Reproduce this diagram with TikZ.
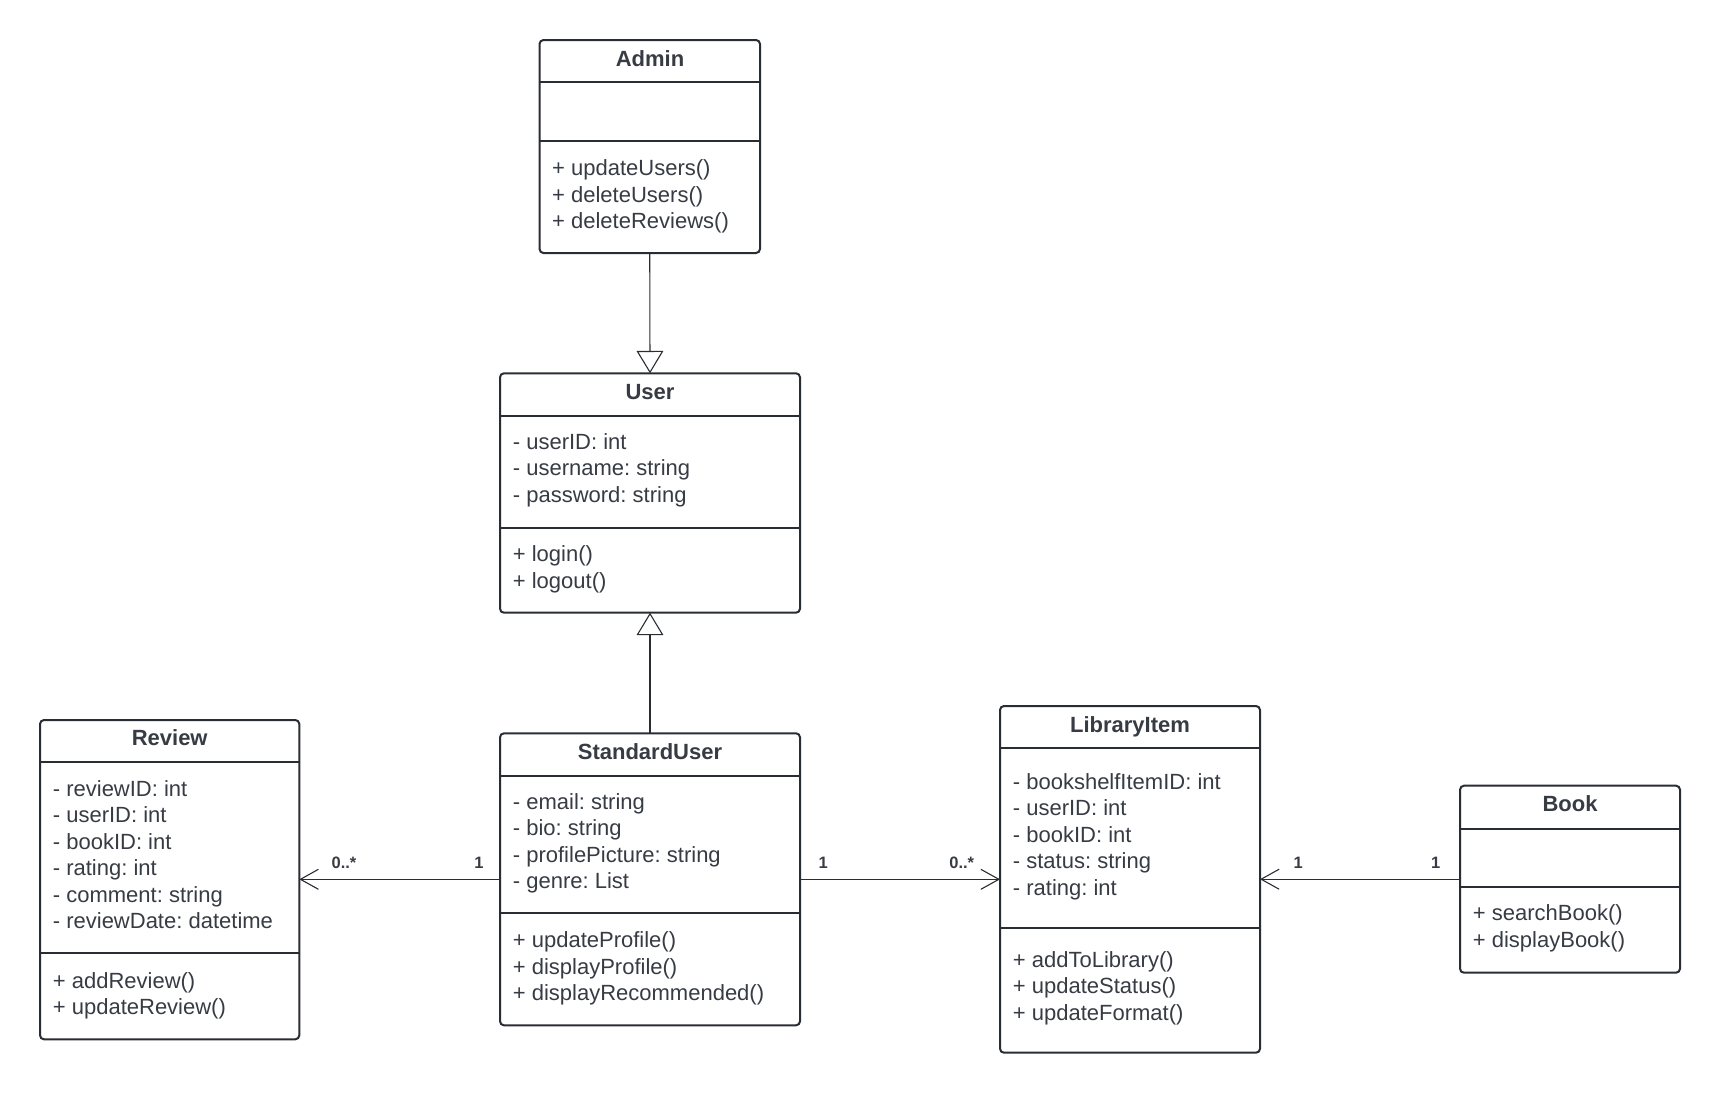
\documentclass[tikz,border=0pt]{standalone}
\usepackage{fontspec}
\setmainfont{Liberation Sans}
\usetikzlibrary{arrows.meta}
\definecolor{boxc}{RGB}{40,44,51}
\definecolor{txtc}{RGB}{55,60,68}
\newcommand\classlines[4]{%
  \foreach \mytext [count=\i] in {#4} {
    \node[txt] (#1\i) at (#2, {#3+(\i-1)*26.5}) {\mytext};
  }%
}
\frenchspacing
\begin{document}
\begin{tikzpicture}[x=1pt,y=-1pt,
  cls/.style={draw=boxc, line width=2pt, rounded corners=4pt, fill=white,
    inner sep=0pt, outer sep=0pt, anchor=north west},
  divl/.style={draw=boxc, line width=2pt},
  txt/.style={anchor=base west, inner sep=0pt, text=txtc,
    font=\fontsize{22}{26.5}\selectfont\frenchspacing},
  ttl/.style={anchor=base, inner sep=0pt, text=txtc,
    font=\fontsize{22}{26.5}\selectfont\bfseries},
  mult/.style={anchor=base, inner sep=0pt, text=txtc,
    font=\fontsize{16.5}{19}\selectfont\bfseries},
  gen/.style={draw=boxc, line width=1.1pt,
    -{Triangle[open, length=22.4pt, width=26.7pt, line width=1.1pt]}},
  assoc/.style={draw=boxc, line width=1.1pt,
    -{Straight Barb[length=18pt, width=20pt, line width=1.1pt]}}]
\useasboundingbox (0,0) rectangle (1720,1093);

% Admin
\node[cls, minimum width=220.5pt, minimum height=213pt] (admin) at (539.5,40) {};
\draw[divl] (539.5,82.3) -- (760,82.3);
\draw[divl] (539.5,141) -- (760,141);
\node[ttl] (admint) at (650,66.5) {Admin};
\classlines{adminm}{552}{175.5}{+ updateUsers(), + deleteUsers(), + deleteReviews()}

% User
\node[cls, minimum width=300pt, minimum height=239.4pt] (user) at (500,373.3) {};
\draw[divl] (500,416) -- (800,416);
\draw[divl] (500,527.7) -- (800,527.7);
\node[ttl] (usert) at (650,399.2) {User};
\classlines{usera}{512.7}{449.2}{- userID: int, - username: string, - password: string}
\classlines{userm}{512.7}{561.5}{+ login(), + logout()}

% StandardUser
\node[cls, minimum width=300pt, minimum height=292pt] (su) at (500,733.3) {};
\draw[divl] (500,776) -- (800,776);
\draw[divl] (500,913.3) -- (800,913.3);
\node[ttl] (sut) at (650,759.2) {StandardUser};
\classlines{sua}{512.7}{809.2}{- email: string, - bio: string, - profilePicture: string, - genre: List}
\classlines{sum}{512.7}{947.5}{+ updateProfile(), + displayProfile(), + displayRecommended()}

% Review
\node[cls, minimum width=259.3pt, minimum height=319.3pt] (review) at (40,720) {};
\draw[divl] (40,761.7) -- (299.3,761.7);
\draw[divl] (40,953.3) -- (299.3,953.3);
\node[ttl] (reviewt) at (169.7,745.8) {Review};
\classlines{reviewa}{52.7}{796}{- reviewID: int, - userID: int, - bookID: int, - rating: int, - comment: string, - reviewDate: datetime}
\classlines{reviewm}{52.7}{988}{+ addReview(), + updateReview()}

% LibraryItem
\node[cls, minimum width=260pt, minimum height=346.7pt] (lib) at (1000,706) {};
\draw[divl] (1000,748.3) -- (1260,748.3);
\draw[divl] (1000,927.7) -- (1260,927.7);
\node[ttl] (libt) at (1130,732.5) {LibraryItem};
\classlines{liba}{1012.7}{789.3}{- bookshelfItemID: int, - userID: int, - bookID: int, - status: string, - rating: int}
\classlines{libm}{1012.7}{967.2}{+ addToLibrary(), + updateStatus(), + updateFormat()}

% Book
\node[cls, minimum width=220pt, minimum height=187pt] (book) at (1460,785.7) {};
\draw[divl] (1460,829) -- (1680,829);
\draw[divl] (1460,886.7) -- (1680,886.7);
\node[ttl] (bookt) at (1570,811.5) {Book};
\classlines{bookm}{1472.7}{920.5}{+ searchBook(), + displayBook()}

% Connectors
\draw[gen] (admin.south) -- (user.north);
\draw[gen] (su.north) -- (user.south);
\draw[assoc] (su.west) -- (review.east |- su.west);
\draw[assoc] (su.east) -- (lib.west |- su.east);
\draw[assoc] (book.west) -- (lib.east |- book.west);

% Multiplicities
\node[mult] (m1) at (344,868.5) {0..*};
\node[mult] (m2) at (479,868.5) {1};
\node[mult] (m3) at (823.3,868.5) {1};
\node[mult] (m4) at (961.7,868.5) {0..*};
\node[mult] (m5) at (1298.3,868.5) {1};
\node[mult] (m6) at (1435.7,868.5) {1};
\end{tikzpicture}
\end{document}
